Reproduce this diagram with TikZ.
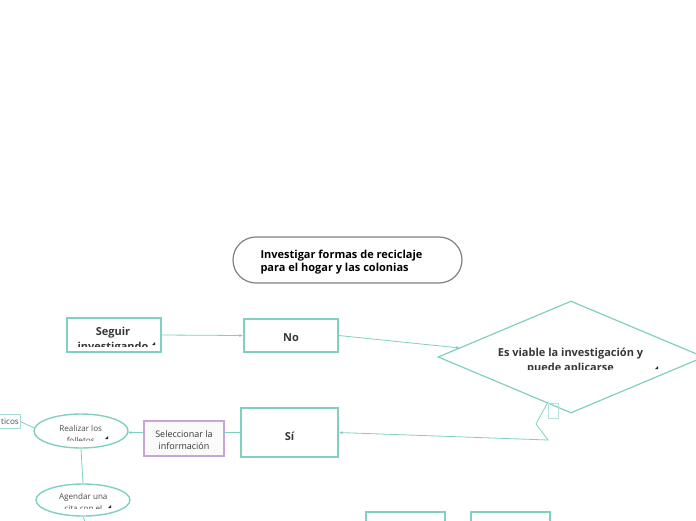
\documentclass[tikz,border=0pt]{standalone}
\usepackage{fontspec}
\setmainfont{Open Sans}
\usetikzlibrary{shapes.geometric,arrows.meta}
\definecolor{tealline}{RGB}{128,207,193}
\definecolor{lilac}{RGB}{200,166,216}
\definecolor{inktext}{RGB}{55,55,55}

\begin{document}
\begin{tikzpicture}[x=1pt, y=-1pt,
  box/.style={draw=tealline, line width=1.4pt, rectangle, inner sep=0pt},
  oval/.style={draw=tealline, line width=1.4pt, ellipse, inner sep=0pt},
  conn/.style={draw=tealline, line width=0.8pt},
  tip/.style={-{Latex[length=4pt,width=3pt]}},
  bold label/.style={font=\fontsize{11}{14}\selectfont\bfseries, text=inktext, anchor=base},
  small label/.style={font=\fontsize{8.1}{11}\selectfont, text=inktext!90, anchor=base},
  corner mark/.pic={\fill[black!85] (0,0) -- (3,0) -- (3,-3) -- cycle;}]
\useasboundingbox (0,0) rectangle (696,520);

\node[name=title, draw=black!50, line width=1.2pt, rounded corners=23pt,
  minimum width=229pt, minimum height=46pt] at (347.5,260) {};
\node[bold label, text=black, anchor=base west] at (257,258.3) {Investigar formas de reciclaje};
\node[bold label, text=black, anchor=base west] at (257,271.8) {para el hogar y las colonias};

\node[name=seguir, box, minimum width=94pt, minimum height=34pt] at (114,335) {};
\begin{scope}
  \clip (69,320) rectangle (159,346);
  \node[bold label] at (113,335) {Seguir};
  \node[bold label] at (113,350) {investigando};
\end{scope}
\pic at (152,345) {corner mark};

\node[name=no, box, minimum width=94pt, minimum height=33pt] at (291,335.5) {};
\node[bold label] at (291,341.5) {No};

\node[name=pregunta, draw=tealline, line width=1.2pt, diamond, aspect=2.4,
  minimum width=266pt, minimum height=112pt, inner sep=0pt] at (571,357) {};
\begin{scope}
  \clip (470,338) rectangle (670,369.5);
  \node[bold label] at (570.5,356) {Es viable la investigación y};
  \node[bold label] at (570.5,371) {puede aplicarse};
\end{scope}
\pic at (655,369) {corner mark};
\node[name=handle, draw=tealline!60, line width=0.8pt, minimum width=10pt,
  minimum height=15pt, inner sep=0pt] at (553,410.5) {};

\node[name=si, box, minimum width=97pt, minimum height=49pt] at (289.5,432.5) {};
\node[bold label] at (289.5,440) {Sí};

\node[name=seleccionar, draw=lilac, fill=black!2, line width=1.2pt,
  minimum width=80pt, minimum height=35pt, inner sep=0pt] at (184,438.5) {};
\node[small label, font=\fontsize{9}{12}\selectfont, text=inktext] at (184,437) {Seleccionar la};
\node[small label, font=\fontsize{9}{12}\selectfont, text=inktext] at (184,449.5) {información};

\node[name=folletos, oval, minimum width=94pt, minimum height=34pt] at (81,431) {};
\begin{scope}
  \clip (50,416) rectangle (112,440);
  \node[small label] at (80.7,431) {Realizar los};
  \node[small label] at (80.7,443) {folletos};
\end{scope}
\pic at (105,439) {corner mark};

\node[name=ticos, draw=tealline!70, line width=0.8pt, minimum width=28pt,
  minimum height=14pt, inner sep=0pt] at (6,421.5) {};
\node[small label] at (10,424.5) {ticos};

\node[name=cita, oval, minimum width=94pt, minimum height=32pt] at (83,500) {};
\begin{scope}
  \clip (52,486) rectangle (114,508);
  \node[small label] at (83.3,499.5) {Agendar una};
  \node[small label] at (83.3,511.5) {cita con el};
\end{scope}
\pic at (108,508) {corner mark};
\coordinate (citaout) at (86,524);

\node[name=fondo1, box, minimum width=79pt, minimum height=30pt] at (405.5,527) {};
\node[name=fondo2, box, minimum width=79pt, minimum height=30pt] at (510.5,527) {};

\draw[conn, tip] (seguir.east) -- (no.west);
\draw[conn, tip] (no.east) -- (460,348);
\draw[conn, tip] (handle.north west) -- (536,424) -- (548,440) -- (si.east);
\draw[conn] (si.west |- seleccionar.east) ++(0,-6) -- ++(-17,0);
\draw[conn, tip] (seleccionar.west) ++(0,-6) -- ++(-16,0);
\draw[conn] (ticos.east) -- (34,428);
\draw[conn] (folletos.south) -- (cita.north);
\draw[conn] (cita.south) -- (citaout);
\end{tikzpicture}
\end{document}
